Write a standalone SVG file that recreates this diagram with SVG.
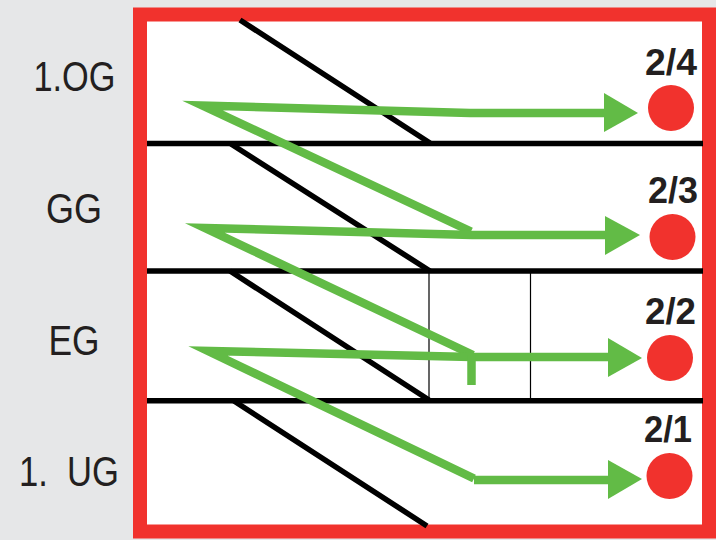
<svg xmlns="http://www.w3.org/2000/svg" width="716" height="540" viewBox="0 0 716 540">
<style>
.thick{stroke:#000;stroke-width:5.500;fill:none}
.diag{stroke:#000;stroke-width:5.500;fill:none}
.thin{stroke:#000;stroke-width:1.200;fill:none}
.g{stroke:#62bb46;stroke-width:8.500;fill:none;stroke-miterlimit:20}
.head{fill:#62bb46}
.dot{fill:#f1322d}
.fl{font-family:"Liberation Sans",Arial,sans-serif;font-size:42px;fill:#231f20}
.no{font-family:"Liberation Sans",Arial,sans-serif;font-size:37px;font-weight:bold;fill:#231f20}
</style>
<rect width="716" height="540" fill="#e6e7e8"/>
<rect x="140" y="14.500" width="569" height="517" fill="#fff" stroke="#f1322d" stroke-width="14"/>
<g id="connectors">
<path class="diag" d="M240 20L430 143M231 144L430 271M230 271L429 400M234 401L427 526"/>
<path class="thick" d="M147 143.500H703M147 271H703M147 400.700H703"/>
<path class="thin" d="M429 272V399M530.500 272V399"/>
<path class="g" d="M471 231.500L202.500 105.500L470 113H606"/>
<path class="g" d="M473 355L205 228L472 235H607"/>
<path class="g" d="M474 478.500L208 351L472 357H610"/>
<path class="g" d="M471.500 355V385"/>
<path class="g" d="M474 480H610"/>
<polygon class="head" points="604,93 638,113 604,132"/>
<polygon class="head" points="605,216 640,235 605,255"/>
<polygon class="head" points="608,338 642,358 608,377"/>
<polygon class="head" points="608,460 642,479 608,499"/>
</g>
<g id="floor-1og"><text class="fl" x="33.500" y="90.500" textLength="82" lengthAdjust="spacingAndGlyphs">1.OG</text></g>
<g id="floor-gg"><text class="fl" x="46" y="222.500" textLength="56" lengthAdjust="spacingAndGlyphs">GG</text></g>
<g id="floor-eg"><text class="fl" x="48.500" y="354.500" textLength="51" lengthAdjust="spacingAndGlyphs">EG</text></g>
<g id="floor-1ug"><text class="fl" x="19" y="485.500" textLength="100" lengthAdjust="spacingAndGlyphs" xml:space="preserve">1.  UG</text></g>
<g id="node-24"><text class="no" x="645" y="75" textLength="52" lengthAdjust="spacingAndGlyphs">2/4</text><circle class="dot" cx="671" cy="108" r="23"/></g>
<g id="node-23"><text class="no" x="648" y="203" textLength="50" lengthAdjust="spacingAndGlyphs">2/3</text><circle class="dot" cx="672.500" cy="237" r="23"/></g>
<g id="node-22"><text class="no" x="645" y="324" textLength="51" lengthAdjust="spacingAndGlyphs">2/2</text><circle class="dot" cx="670" cy="358" r="23"/></g>
<g id="node-21"><text class="no" x="644" y="442" textLength="48" lengthAdjust="spacingAndGlyphs">2/1</text><circle class="dot" cx="669.500" cy="476" r="23"/></g>
</svg>
